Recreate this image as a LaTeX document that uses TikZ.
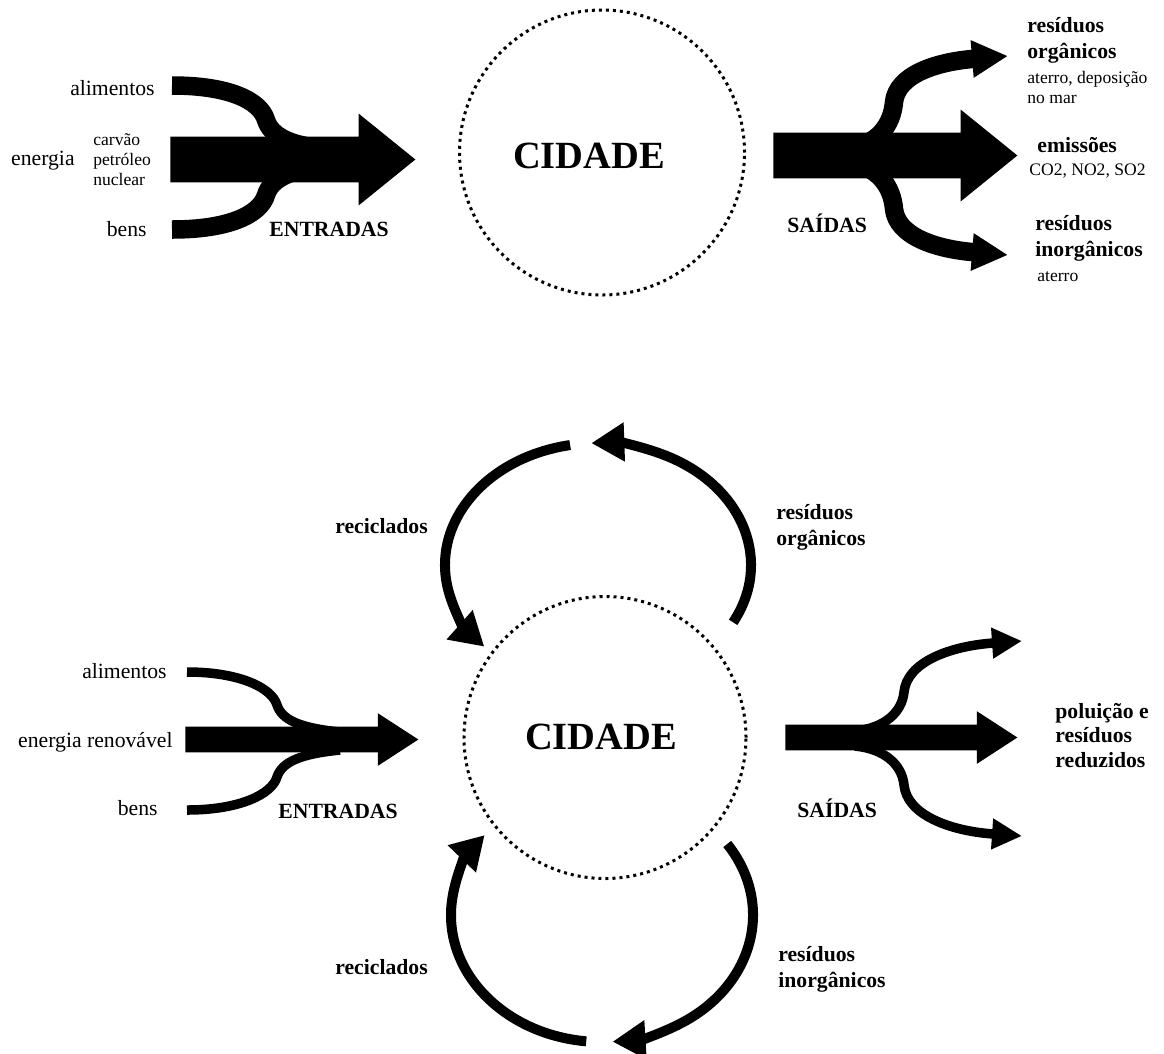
\documentclass[tikz,border=0pt]{standalone}
\usepackage{fontspec}
\setmainfont{Liberation Serif}
\usetikzlibrary{arrows.meta, shapes.arrows}
\definecolor{flowink}{HTML}{000000}
\tikzset{
  city ring/.style={circle, draw=flowink, line width=0.6mm,
    dash pattern=on 0.6mm off 0.8mm, inner sep=0pt},
  city name/.style={font=\bfseries\fontsize{21.9}{26}\selectfont,
    text=flowink, inner sep=0pt},
  big flow/.style={single arrow, fill=flowink, inner xsep=0pt, inner ysep=4.5mm,
    single arrow head extend=4.6mm, single arrow tip angle=78, anchor=tail},
  slim flow/.style={single arrow, fill=flowink, inner xsep=0pt, inner ysep=2.5mm,
    single arrow head extend=2.7mm, single arrow tip angle=66, anchor=tail},
  thick branch/.style={draw=flowink, line width=3.7mm},
  thin branch/.style={draw=flowink, line width=1.9mm},
  cycle arc/.style={draw=flowink, line width=2mm,
    -{Triangle[length=6.6mm, width=7.4mm]}},
  flow label/.style={font=\fontsize{12.35}{14.8}\selectfont, text=flowink,
    inner sep=0pt, align=left},
  flow head/.style={flow label, font=\bfseries\fontsize{12.35}{15}\selectfont},
  flow note/.style={font=\fontsize{10}{11.6}\selectfont, text=flowink,
    inner sep=0pt, align=left},
}

\begin{document}
\begin{tikzpicture}[x=0.2mm, y=0.2mm]
  \useasboundingbox (0,0) rectangle (1164,-1053);

  % linear city
  \node[city ring, minimum size=57mm] (ringA) at (602,-152.5) {};
  \node[city name, anchor=base] (cityA) at (589,-168) {CIDADE};

  \node[big flow, minimum height=49mm] (inA) at (170,-159.5) {};
  \coordinate (foodA) at (172,-85.5);
  \coordinate (goodsA) at (172,-229.5);
  \draw[thick branch] (foodA) .. controls (228,-85.5) and (260,-100) .. (266,-120)
    .. controls (271,-136) and (290,-145) .. (320,-148);
  \draw[thick branch] (goodsA) .. controls (228,-229.5) and (260,-215) .. (266,-195)
    .. controls (271,-179) and (290,-170) .. (320,-167);
  \node[flow label, anchor=base east] (foodAl) at (155,-95) {alimentos};
  \node[flow label, anchor=base east] (energyAl) at (75,-165) {energia};
  \node[flow note, anchor=north west] (sourceAl) at (93,-133)
    {carvão\\petróleo\\nuclear};
  \node[flow label, anchor=base east] (goodsAl) at (147,-236) {bens};
  \node[flow head, anchor=base west] (inAl) at (269,-236) {ENTRADAS};

  \node[big flow, minimum height=48.8mm] (outA) at (773,-155.5) {};
  \coordinate (forkA1) at (845,-150);
  \coordinate (forkA2) at (845,-161);
  \draw[thick branch, -{Triangle[length=7.2mm, width=7mm]}] (forkA1)
    .. controls (878,-145) and (892,-125) .. (894,-102)
    .. controls (897,-75) and (935,-62) .. (1008,-56);
  \draw[thick branch, -{Triangle[length=7.2mm, width=7mm]}] (forkA2)
    .. controls (878,-166) and (892,-186) .. (894,-209)
    .. controls (897,-236) and (935,-249) .. (1008,-255);
  \node[flow head, anchor=base west] (outAl) at (787,-232) {SAÍDAS};
  \node[flow head, anchor=north west] (organicA) at (1027,-17)
    {resíduos\\orgânicos};
  \node[flow note, anchor=north west] (organicAn) at (1027,-71)
    {aterro, deposição\\no mar};
  \node[flow head, anchor=base west] (emissionA) at (1037,-152) {emissões};
  \node[flow note, anchor=base west] (emissionAn) at (1029,-175)
    {CO2, NO2, SO2};
  \node[flow head, anchor=north west] (inorganicA) at (1035,-215)
    {resíduos\\inorgânicos};
  \node[flow note, anchor=base west] (inorganicAn) at (1037,-281) {aterro};

  % circular city
  \node[city ring, minimum size=56.4mm] (ringB) at (605,-737.5) {};
  \node[city name, anchor=base] (cityB) at (601,-749) {CIDADE};

  \node[slim flow, minimum height=46.6mm] (inB) at (185,-739.5) {};
  \coordinate (foodB) at (187,-672);
  \coordinate (goodsB) at (187,-810);
  \draw[thin branch] (foodB) .. controls (240,-672) and (272,-688) .. (277,-705)
    .. controls (282,-720) and (300,-728) .. (340,-732);
  \draw[thin branch] (goodsB) .. controls (240,-810) and (272,-794) .. (277,-777)
    .. controls (282,-762) and (300,-754) .. (340,-750);
  \node[flow label, anchor=base east] (foodBl) at (167,-678) {alimentos};
  \node[flow label, anchor=base east] (energyBl) at (173,-747)
    {energia renovável};
  \node[flow label, anchor=base east] (goodsBl) at (158,-815) {bens};
  \node[flow head, anchor=base west] (inBl) at (278,-818) {ENTRADAS};

  \node[slim flow, minimum height=46.4mm] (outB) at (785,-737.5) {};
  \coordinate (forkB1) at (855,-731);
  \coordinate (forkB2) at (855,-746);
  \draw[thin branch, -{Triangle[length=6mm, width=5.8mm]}] (forkB1)
    .. controls (885,-728) and (902,-712) .. (904,-692)
    .. controls (907,-662) and (950,-646) .. (1022,-641);
  \draw[thin branch, -{Triangle[length=6mm, width=5.8mm]}] (forkB2)
    .. controls (885,-749) and (902,-765) .. (904,-785)
    .. controls (907,-815) and (950,-831) .. (1022,-836);
  \node[flow head, anchor=base west] (outBl) at (797,-817) {SAÍDAS};
  \node[flow head, anchor=north west,
    font=\bfseries\fontsize{12.35}{13.9}\selectfont] (reducedB) at (1055,-703)
    {poluição e\\resíduos\\reduzidos};

  % recycling loops
  \coordinate (loopB1) at (598,-565);
  \coordinate (loopB2) at (602,-915);
  \draw[cycle arc] (loopB1) ++(100.5:153 and 122)
    arc[start angle=100.5, end angle=222, x radius=153, y radius=122];
  \draw[cycle arc] (loopB1) ++(-28:153 and 122)
    arc[start angle=-28, end angle=92.5, x radius=153, y radius=122];
  \draw[cycle arc] (loopB2) ++(34:151 and 127)
    arc[start angle=34, end angle=-86, x radius=151, y radius=127];
  \draw[cycle arc] (loopB2) ++(264:151 and 127)
    arc[start angle=264, end angle=141, x radius=151, y radius=127];
  \node[flow head, anchor=base west] (recycleB1) at (335,-533) {reciclados};
  \node[flow head, anchor=north west] (organicB) at (776,-504)
    {resíduos\\orgânicos};
  \node[flow head, anchor=base west] (recycleB2) at (335,-974) {reciclados};
  \node[flow head, anchor=north west] (inorganicB) at (778,-946)
    {resíduos\\inorgânicos};
\end{tikzpicture}
\end{document}
